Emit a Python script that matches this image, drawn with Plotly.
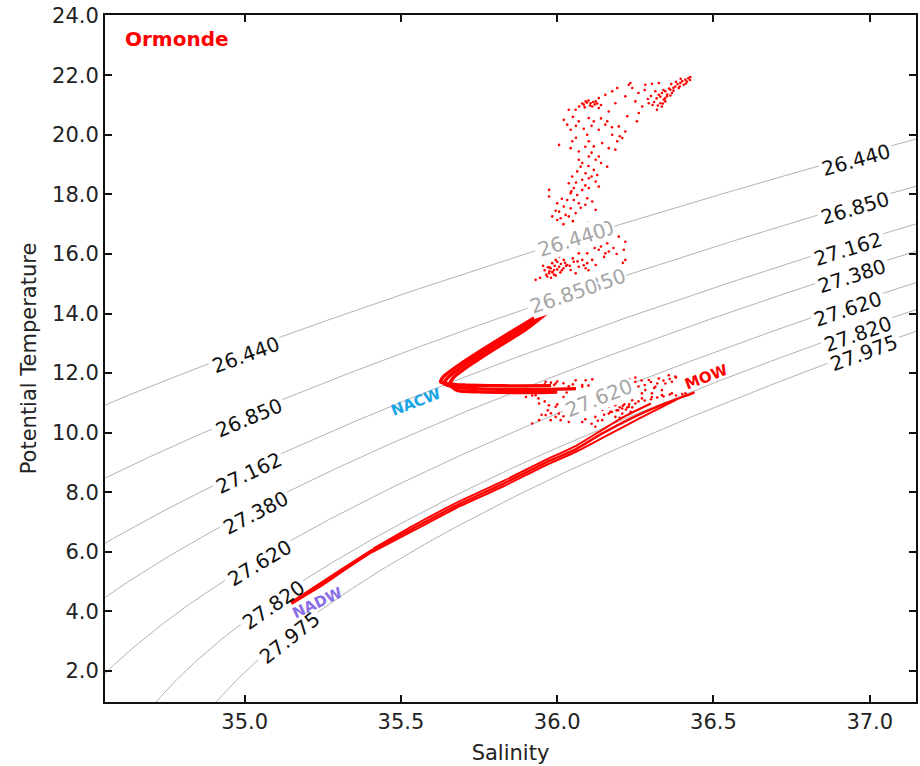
import numpy as np
import plotly.graph_objects as go

# ---------------- data ----------------
sigma_levels = [26.440, 26.850, 27.162, 27.380, 27.620, 27.820, 27.975]
sigma_texts = ["26.440", "26.850", "27.162", "27.380", "27.620", "27.820", "27.975"]

# left-hand isopycnal labels (salinity, temperature of label centre)
left_lab_S = [35.003, 35.013, 35.013, 35.035, 35.048, 35.093, 35.144]
left_lab_T = [12.60, 10.50, 8.64, 7.29, 5.61, 4.20, 3.10]
# right-hand isopycnal labels
right_lab_S = [36.957, 36.953, 36.931, 36.944, 36.931, 36.963, 36.982]
right_lab_T = [19.16, 17.55, 16.17, 15.26, 14.15, 13.31, 12.67]
# grey labels in the middle of the data
mid_lab_text = ["26.440", "26.850", "27.620"]
mid_lab_S = [36.047, 36.021, 36.133]
mid_lab_T = [16.47, 14.59, 11.16]

# deep water (NADW) thick segment
nadw_S = [35.149, 35.20, 35.27, 35.34, 35.41]
nadw_T = [4.28, 4.62, 5.10, 5.58, 6.05]

# lower band towards MOW (three casts)
bandA_S = [35.149, 35.25, 35.41, 35.55, 35.69, 35.83, 35.96, 36.06, 36.14, 36.25, 36.35, 36.436]
bandA_T = [4.28, 4.90, 6.05, 6.85, 7.62, 8.30, 8.98, 9.45, 9.95, 10.55, 11.00, 11.34]
bandB_S = [35.41, 35.55, 35.69, 35.83, 35.96, 36.06, 36.14, 36.22, 36.30]
bandB_T = [6.10, 6.94, 7.71, 8.39, 9.07, 9.56, 10.07, 10.57, 10.98]
bandC_S = [35.41, 35.55, 35.69, 35.83, 35.96, 36.06, 36.16, 36.26, 36.38]
bandC_T = [6.00, 6.77, 7.54, 8.21, 8.89, 9.36, 9.91, 10.46, 11.10]

# NACW knee and upper arm (three casts)
armA_S = [36.06, 35.95, 35.85, 35.75, 35.68, 35.638, 35.65, 35.70, 35.78, 35.88, 35.979]
armA_T = [11.48, 11.45, 11.45, 11.47, 11.52, 11.65, 11.85, 12.25, 12.80, 13.45, 14.14]
armB_S = [36.00, 35.95, 35.85, 35.75, 35.68, 35.656, 35.668, 35.718, 35.798, 35.898, 35.979]
armB_T = [11.36, 11.35, 11.35, 11.37, 11.42, 11.62, 11.85, 12.25, 12.80, 13.45, 14.12]
armC_S = [35.98, 35.88, 35.78, 35.70, 35.655, 35.627, 35.636, 35.684, 35.764, 35.864, 35.975]
armC_T = [11.58, 11.57, 11.58, 11.60, 11.64, 11.70, 11.88, 12.26, 12.81, 13.46, 14.16]

# scattered points: upper (surface) cloud
up_S = [36.426, 36.410, 36.394, 36.378, 36.362, 36.346, 36.335, 36.351, 36.341, 36.330,
        36.325, 36.314, 36.367, 36.389, 36.405, 36.415, 36.346, 36.319, 36.335,
        36.282, 36.303, 36.325, 36.260, 36.240, 36.234, 36.229, 36.192, 36.176, 36.154, 36.133,
        36.091, 36.107, 36.123, 36.085, 36.112, 36.133, 36.059, 36.037, 36.021, 36.032, 36.043,
        36.069, 36.101, 36.117, 36.165, 36.186, 36.218, 36.250, 36.272, 36.293, 36.261, 36.255,
        36.224, 36.197, 36.218, 36.176, 36.154, 36.133, 36.096, 36.101, 36.117, 36.144, 36.165,
        36.192, 36.208, 36.186, 36.048, 36.043, 36.006, 36.069,
        36.133, 36.123, 36.101, 36.160, 36.069, 36.075, 36.064, 36.091, 36.117, 36.128, 36.048,
        36.080, 36.101, 36.123, 36.133, 36.037, 36.053, 36.080, 36.101, 35.974, 36.043, 36.064,
        36.053, 36.096, 36.112, 36.069, 36.032, 36.000, 36.021, 36.043, 36.006, 36.027, 35.984,
        36.011, 36.037, 36.059, 36.123, 35.974, 36.000,
        36.165, 36.170, 36.197, 36.218, 36.213, 36.218, 36.202, 36.160, 36.165, 36.154, 36.133,
        36.096, 36.080, 36.096, 36.069, 36.053, 36.032, 36.021, 36.006, 35.995, 35.984, 35.979,
        35.974, 35.990, 36.006, 35.968, 35.931, 36.043, 36.059, 36.091, 36.112, 36.123, 36.069,
        36.037, 36.000, 35.985, 35.975, 35.990, 36.015, 36.028,
        36.420, 36.400, 36.385, 36.372, 36.358, 36.340, 36.352, 36.362, 36.330, 36.318, 36.345,
        36.338, 36.322, 36.310, 36.300, 36.372, 36.392, 36.412, 36.425, 36.395, 36.380, 36.365,
        36.290, 36.305, 36.280,
        36.095, 36.100, 36.115, 36.120, 36.105, 36.088, 36.128, 36.140, 36.080, 36.070,
        36.050, 36.060, 36.085, 36.110, 36.140, 36.160, 36.175, 36.200, 36.060, 36.090, 36.110,
        36.140, 36.080, 36.100, 36.110, 36.060, 36.090, 36.045, 36.075, 36.090, 36.020, 36.050,
        36.100, 35.995, 36.015,
        35.965, 35.975, 35.985, 35.970, 35.992, 36.000, 36.012, 36.020, 35.960, 35.980, 35.995,
        36.010, 36.025, 36.040, 36.050, 36.065, 36.085, 36.100, 36.150, 36.180, 36.190, 36.210,
        36.195, 36.140, 36.120, 35.955, 35.945]
up_T = [21.94, 21.85, 21.74, 21.62, 21.51, 21.46, 21.40, 21.29, 21.18, 21.06,
        21.34, 21.46, 21.40, 21.57, 21.68, 21.79, 21.12, 20.84, 20.95,
        21.68, 21.71, 21.74, 21.40, 21.57, 21.74, 21.68, 21.57, 21.46, 21.34, 21.23,
        21.12, 21.06, 21.12, 21.01, 20.95, 20.90, 20.84, 20.84, 20.50, 20.34, 20.17,
        20.45, 20.56, 20.45, 20.78, 21.06, 21.29, 21.12, 20.95, 21.06, 20.73, 20.45,
        20.62, 20.28, 20.11, 20.00, 20.34, 20.17, 20.00, 19.78, 19.61, 19.72, 19.55,
        19.78, 19.89, 19.50, 19.78, 19.55, 19.66, 19.44,
        19.27, 19.16, 19.27, 18.93, 19.16, 18.93, 18.77, 18.71, 18.82, 18.65, 18.60,
        18.49, 18.54, 18.43, 18.26, 18.37, 18.21, 18.15, 18.21, 18.15, 18.04, 17.98,
        17.81, 17.87, 17.76, 17.70, 17.81, 17.70, 17.59, 17.53, 17.42, 17.31, 17.26,
        17.20, 17.26, 17.37, 17.48, 17.93, 17.14,
        16.81, 16.58, 16.58, 16.41, 16.14, 15.80, 15.52, 16.36, 16.08, 16.02, 16.14,
        16.02, 15.80, 15.69, 15.57, 15.74, 15.63, 15.80, 15.91, 15.80, 15.69, 15.52,
        15.35, 15.46, 15.57, 15.24, 15.13, 15.46, 15.35, 15.52, 15.80, 15.63, 16.02,
        16.08, 15.74, 15.40, 15.55, 15.30, 15.45, 15.60,
        21.90, 21.80, 21.70, 21.58, 21.55, 21.50, 21.35, 21.32, 21.28, 21.22, 21.22,
        21.05, 20.98, 21.10, 21.30, 21.48, 21.62, 21.72, 21.84, 21.88, 21.78, 21.70,
        21.20, 21.00, 21.50,
        21.08, 21.15, 21.10, 21.02, 20.98, 20.92, 21.05, 21.00, 21.05, 20.95,
        20.60, 20.30, 20.20, 20.30, 20.55, 20.45, 20.25, 19.95, 19.90, 19.60, 19.40,
        19.05, 19.05, 18.95, 18.60, 18.40, 18.30, 18.10, 17.55, 17.65, 17.00, 17.10,
        17.05, 17.45, 17.85,
        15.30, 15.42, 15.38, 15.55, 15.60, 15.48, 15.66, 15.52, 15.45, 15.20, 15.28,
        15.38, 15.70, 15.60, 15.85, 15.75, 15.62, 15.45, 15.90, 16.20, 16.00, 15.70,
        15.60, 16.25, 16.20, 15.60, 15.20]

# scattered points: intermediate / MOW region
mid_S = [35.963, 35.995, 36.037, 36.080, 36.112, 36.059, 36.091,
         35.931, 35.942, 35.973, 35.995, 36.005, 35.995, 35.963, 35.920, 35.942, 35.979,
         36.011, 36.037, 36.080, 36.122,
         36.144, 36.165, 36.186, 36.208, 36.229, 36.250, 36.165, 36.186, 36.208, 36.144,
         36.122, 36.240, 36.271, 36.303, 36.335, 36.367, 36.410, 36.436,
         36.250, 36.293, 36.325, 36.357, 36.378, 36.314, 36.282, 36.335, 36.367, 36.346,
         36.271, 36.303, 36.175, 36.195, 36.215, 36.235, 36.155, 36.185, 36.225, 36.20,
         36.02, 36.05, 35.99, 36.03, 36.10, 36.07,
         36.15, 36.17, 36.19, 36.21, 36.23, 36.20, 36.18, 36.16, 36.22, 36.24, 36.26,
         36.28, 36.30, 36.32, 36.34, 36.36, 36.38, 36.40, 36.30, 36.32, 36.34, 36.36,
         36.38, 36.28, 36.26, 36.31, 36.27, 36.25, 36.23, 36.13, 36.11, 36.09, 36.05,
         36.02, 35.98, 35.97, 35.95, 36.00, 36.03, 36.06,
         35.96, 35.98, 36.00, 36.02, 36.05, 36.08, 36.10, 35.92, 35.94, 35.96, 35.90]
mid_T = [11.71, 11.65, 11.56, 11.54, 11.79, 11.76, 11.76,
         11.26, 10.98, 10.92, 10.87, 10.64, 10.53, 10.59, 10.31, 10.42, 10.42,
         10.42, 10.36, 10.36, 10.53,
         10.76, 10.87, 10.92, 10.81, 10.87, 10.98, 10.64, 10.53, 10.64, 10.42,
         10.20, 11.09, 11.15, 11.20, 11.26, 11.32, 11.32, 11.34,
         11.71, 11.77, 11.82, 11.93, 11.88, 11.54, 11.43, 11.43, 11.71, 11.65,
         11.32, 11.32, 10.70, 10.75, 10.95, 10.70, 10.95, 11.05, 10.85, 10.50,
         11.20, 11.10, 11.60, 11.35, 10.95, 11.20,
         10.60, 10.70, 10.75, 10.90, 10.95, 10.85, 10.95, 11.00, 10.78, 10.85, 11.05,
         11.08, 11.12, 11.18, 11.22, 11.28, 11.25, 11.30, 11.70, 11.65, 11.75, 11.80,
         11.85, 11.60, 11.55, 11.50, 11.75, 11.85, 11.80, 10.40, 10.30, 10.45, 10.50,
         10.55, 10.65, 10.75, 10.60, 10.95, 10.80, 10.70,
         11.62, 11.68, 11.72, 11.66, 11.62, 11.60, 11.58, 11.25, 11.15, 11.05, 11.20]

# ---------------- isopycnals from the UNESCO (EOS-80) surface density ----------------
def sigma0(S, T):
    rw = (999.842594 + 6.793952e-2 * T - 9.095290e-3 * T**2 + 1.001685e-4 * T**3
          - 1.120083e-6 * T**4 + 6.536332e-9 * T**5)
    A = 8.24493e-1 - 4.0899e-3 * T + 7.6438e-5 * T**2 - 8.2467e-7 * T**3 + 5.3875e-9 * T**4
    B = -5.72466e-3 + 1.0227e-4 * T - 1.6546e-6 * T**2
    C = 4.8314e-4
    return rw + A * S + B * S**1.5 + C * S**2 - 1000.0


def temp_on_isopycnal(S, level):
    S = np.asarray(S, dtype=float)
    lo = np.full_like(S, -2.5)
    hi = np.full_like(S, 35.0)
    for _ in range(60):
        mid = 0.5 * (lo + hi)
        dens = sigma0(S, mid)
        above = dens > level
        lo = np.where(above, mid, lo)
        hi = np.where(above, hi, mid)
    return 0.5 * (lo + hi)


XR = [34.553, 37.148]
YR = [0.96, 24.02]
W, H = 920, 766
ML, MR, MT, MB = 105, 2, 15, 64
PPX = (W - ML - MR) / (XR[1] - XR[0])
PPY = (H - MT - MB) / (YR[1] - YR[0])


def label_angle(S, level):
    d = 0.01
    t1 = temp_on_isopycnal([S - d], level)[0]
    t2 = temp_on_isopycnal([S + d], level)[0]
    slope = (t2 - t1) / (2 * d)
    return -float(np.degrees(np.arctan(slope * PPY / PPX)))


def shift_along(S, T, level, dist_px):
    a = np.radians(-label_angle(S, level))
    return S + dist_px * np.cos(a) / PPX, T + dist_px * np.sin(a) / PPY


fig = go.Figure()

# isopycnal lines with gaps where their labels sit
S_grid = np.linspace(34.3, 37.4, 2000)
label_spots = {}
for txt, lev, s, t in zip(sigma_texts, sigma_levels, left_lab_S, left_lab_T):
    label_spots.setdefault(lev, []).append((s, t))
for txt, lev, s, t in zip(sigma_texts, sigma_levels, right_lab_S, right_lab_T):
    label_spots.setdefault(lev, []).append((s, t))
for txt, s, t in zip(mid_lab_text, mid_lab_S, mid_lab_T):
    lev = sigma_levels[sigma_texts.index(txt)]
    label_spots.setdefault(lev, []).append((s, t))

for lev in sigma_levels:
    T_line = temp_on_isopycnal(S_grid, lev)
    for (s, t) in label_spots.get(lev, []):
        dist = np.hypot((S_grid - s) * PPX, (T_line - t) * PPY)
        T_line = np.where(dist < 38, np.nan, T_line)
    fig.add_trace(go.Scatter(x=S_grid, y=T_line, mode="lines",
                             line=dict(color="#b3b3b3", width=1), hoverinfo="skip",
                             connectgaps=False, showlegend=False))

RED = "#ff0000"
for sx, ty, w in [(bandA_S, bandA_T, 2.4), (bandB_S, bandB_T, 2.0), (bandC_S, bandC_T, 2.0),
                  (armA_S, armA_T, 3.4), (armB_S, armB_T, 3.4), (armC_S, armC_T, 3.4),
                  (nadw_S, nadw_T, 4)]:
    fig.add_trace(go.Scatter(x=sx, y=ty, mode="lines",
                             line=dict(color=RED, width=w, shape="spline", smoothing=0.6),
                             showlegend=False))

for sx, ty in [(up_S, up_T), (mid_S, mid_T)]:
    fig.add_trace(go.Scatter(x=sx, y=ty, mode="markers",
                             marker=dict(color=RED, size=2.6, line=dict(width=0)),
                             showlegend=False))

FONT = "DejaVu Sans"
ann = []
for txt, lev, s, t in zip(sigma_texts, sigma_levels, left_lab_S, left_lab_T):
    ann.append(dict(x=s, y=t, text=txt, showarrow=False, textangle=label_angle(s, lev),
                    font=dict(family=FONT, size=20, color="#111111")))
for txt, lev, s, t in zip(sigma_texts, sigma_levels, right_lab_S, right_lab_T):
    ann.append(dict(x=s, y=t, text=txt, showarrow=False, textangle=label_angle(s, lev),
                    font=dict(family=FONT, size=20, color="#111111")))
# grey labels: a second copy slightly further along peeks out from under the first one
for txt, s, t, extra in zip(mid_lab_text, mid_lab_S, mid_lab_T, [9, 30, 0]):
    lev = sigma_levels[sigma_texts.index(txt)]
    ang = label_angle(s, lev)
    if extra:
        s2, t2 = shift_along(s, t, lev, extra)
        ann.append(dict(x=s2, y=t2, text=txt, showarrow=False, textangle=ang,
                        font=dict(family=FONT, size=20, color="#a6a6a6"),
                        bgcolor="white", borderpad=0))
    ann.append(dict(x=s, y=t, text=txt, showarrow=False, textangle=ang,
                    font=dict(family=FONT, size=20, color="#a6a6a6"),
                    bgcolor="white", borderpad=0))

ann.append(dict(x=0.022, y=0.985, xref="paper", yref="paper", xanchor="left", yanchor="top",
                text="<b>Ormonde</b>", showarrow=False,
                font=dict(family=FONT, size=20, color=RED)))
ann.append(dict(x=35.549, y=11.03, text="<b>NACW</b>", showarrow=False, textangle=-21,
                font=dict(family=FONT, size=15, color="#1aa6e6")))
ann.append(dict(x=36.478, y=11.87, text="<b>MOW</b>", showarrow=False, textangle=-21,
                font=dict(family=FONT, size=15, color=RED)))
ann.append(dict(x=35.233, y=4.27, text="<b>NADW</b>", showarrow=False, textangle=-25,
                font=dict(family=FONT, size=15, color="#8a6ee6")))

axis_common = dict(showline=True, linecolor="#111111", linewidth=2, mirror="ticks",
                   ticks="inside", ticklen=7, tickwidth=2, tickcolor="#111111",
                   showgrid=False, zeroline=False,
                   tickfont=dict(family=FONT, size=21, color="#222222"),
                   tickformat=".1f")

fig.update_layout(
    width=W, height=H,
    margin=dict(l=ML, r=MR, t=MT, b=MB),
    paper_bgcolor="white", plot_bgcolor="white",
    annotations=ann,
    xaxis=dict(range=XR, dtick=0.5, tick0=35.0,
               title=dict(text="Salinity", font=dict(family=FONT, size=21, color="#222222"),
                          standoff=12), **axis_common),
    yaxis=dict(range=YR, dtick=2.0, tick0=0.0,
               title=dict(text="Potential Temperature",
                          font=dict(family=FONT, size=21, color="#222222"), standoff=10),
               **axis_common),
    showlegend=False,
)

fig.write_html("out.html")
